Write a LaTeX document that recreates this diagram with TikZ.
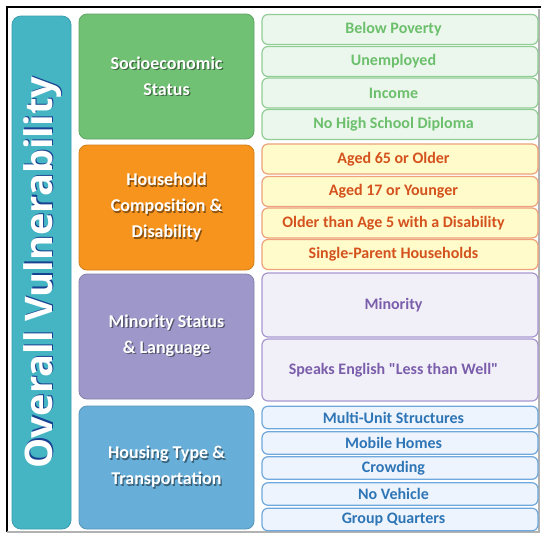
\documentclass[tikz,border=0pt]{standalone}
\usepackage{fontspec}
\setmainfont{Carlito}[Ligatures=TeXOff]
\newfontfamily\titlefont{Open Sans}
\definecolor{tealbar}{HTML}{45B5C3}
\definecolor{tealedge}{HTML}{3A9DB0}
\definecolor{gcat}{HTML}{71C175}
\definecolor{ocat}{HTML}{F7941E}
\definecolor{pcat}{HTML}{9D98C9}
\definecolor{bcat}{HTML}{67AED8}
\definecolor{gfill}{HTML}{EBF7EC}
\definecolor{gedge}{HTML}{91CD95}
\definecolor{gtext}{HTML}{6CBF6C}
\definecolor{ofill}{HTML}{FFFBCB}
\definecolor{oedge}{HTML}{EEA37A}
\definecolor{otext}{HTML}{D4521D}
\definecolor{pfill}{HTML}{F1F0F8}
\definecolor{pedge}{HTML}{A897CF}
\definecolor{ptext}{HTML}{7B5EAB}
\definecolor{bfill}{HTML}{EEF4FD}
\definecolor{bedge}{HTML}{6FA8DC}
\definecolor{btext}{HTML}{2E75B6}
\newcommand\shd[2]{\leavevmode\rlap{\raisebox{-1.3pt}{\kern1.3pt\textcolor{#1}{#2}}}#2}
\begin{document}
\begin{tikzpicture}[x=1pt,y=-1pt,
  catbox/.style={rounded corners=8pt, line width=0.8pt, minimum width=175pt, inner sep=0pt,
    text=white, align=center, font=\fontsize{18}{26}\selectfont\bfseries},
  itembox/.style={rounded corners=6pt, line width=1.2pt, minimum width=276pt, inner sep=0pt,
    font=\fontsize{16}{18}\selectfont\bfseries, execute at begin node=\hspace*{-13pt}},
  gitem/.style={itembox, fill=gfill, draw=gedge, text=gtext, minimum height=30pt},
  oitem/.style={itembox, fill=ofill, draw=oedge, text=otext, minimum height=30pt},
  pitem/.style={itembox, fill=pfill, draw=pedge, text=ptext},
  bitem/.style={itembox, fill=bfill, draw=bedge, text=btext, minimum height=22.5pt},
  frameline/.style={line width=2pt}
]
\useasboundingbox (0,0) rectangle (541,536);
\fill[white] (0,0) rectangle (541,536);
% frame
\coordinate (ftl) at (7,7);
\coordinate (ftr) at (541,7);
\coordinate (fbl) at (7,532);
\coordinate (fbr) at (539,532);
\coordinate (frt) at (539,9);
\draw[frameline, black] (fbl) -- (ftl) -- (ftr);
\draw[line width=1.5pt, black!30] (fbl) -- (fbr) -- (frt);
% title bar
\node[draw=tealedge, fill=tealbar, rounded corners=9pt, line width=0.8pt,
  minimum width=59pt, minimum height=513pt, inner sep=0pt] (bar) at (41.5,272.5) {};
\node[rotate=90, text=white, font=\titlefont\bfseries\fontsize{38}{40}\selectfont] (title) at (43,272.5) {\shd{tealedge!60!blue!70!black}{Overall Vulnerability}};
% categories
\node[catbox, fill=gcat, draw=gcat!85!black, minimum height=125pt] (socio) at (166.5,76.5)
  {\shd{gcat!55!black}{Socioeconomic}\\\shd{gcat!55!black}{Status}};
\node[catbox, fill=ocat, draw=ocat!85!black, minimum height=125pt] (house) at (166.5,207.5)
  {\shd{ocat!55!black}{Household}\\\shd{ocat!55!black}{Composition \&}\\\shd{ocat!55!black}{Disability}};
\node[catbox, fill=pcat, draw=pcat!85!black, minimum height=125pt] (minor) at (166.5,336.5)
  {\shd{pcat!55!black}{Minority Status}\\\shd{pcat!55!black}{\& Language}};
\node[catbox, fill=bcat, draw=bcat!85!black, minimum height=123pt] (housing) at (166.5,467.5)
  {\shd{bcat!55!black}{Housing Type \&}\\\shd{bcat!55!black}{Transportation}};
% green items
\node[gitem] (g1) at (400,29.5) {Below Poverty};
\node[gitem] (g2) at (400,61.5) {Unemployed};
\node[gitem] (g3) at (400,93) {Income};
\node[gitem] (g4) at (400,124.5) {No High School Diploma};
% orange items
\node[oitem] (o1) at (400,159) {Aged 65 or Older};
\node[oitem] (o2) at (400,191.5) {Aged 17 or Younger};
\node[oitem] (o3) at (400,223) {Older than Age 5 with a Disability};
\node[oitem] (o4) at (400,254.5) {Single-Parent Households};
% purple items
\node[pitem, minimum height=64pt] (p1) at (400,305) {Minority};
\node[pitem, minimum height=62pt] (p2) at (400,370) {Speaks English "Less than Well"};
% blue items
\node[bitem] (b1) at (400,417.5) {Multi-Unit Structures};
\node[bitem] (b2) at (400,443) {Mobile Homes};
\node[bitem] (b3) at (400,468) {Crowding};
\node[bitem] (b4) at (400,494) {No Vehicle};
\node[bitem] (b5) at (400,519.5) {Group Quarters};
\end{tikzpicture}
\end{document}
